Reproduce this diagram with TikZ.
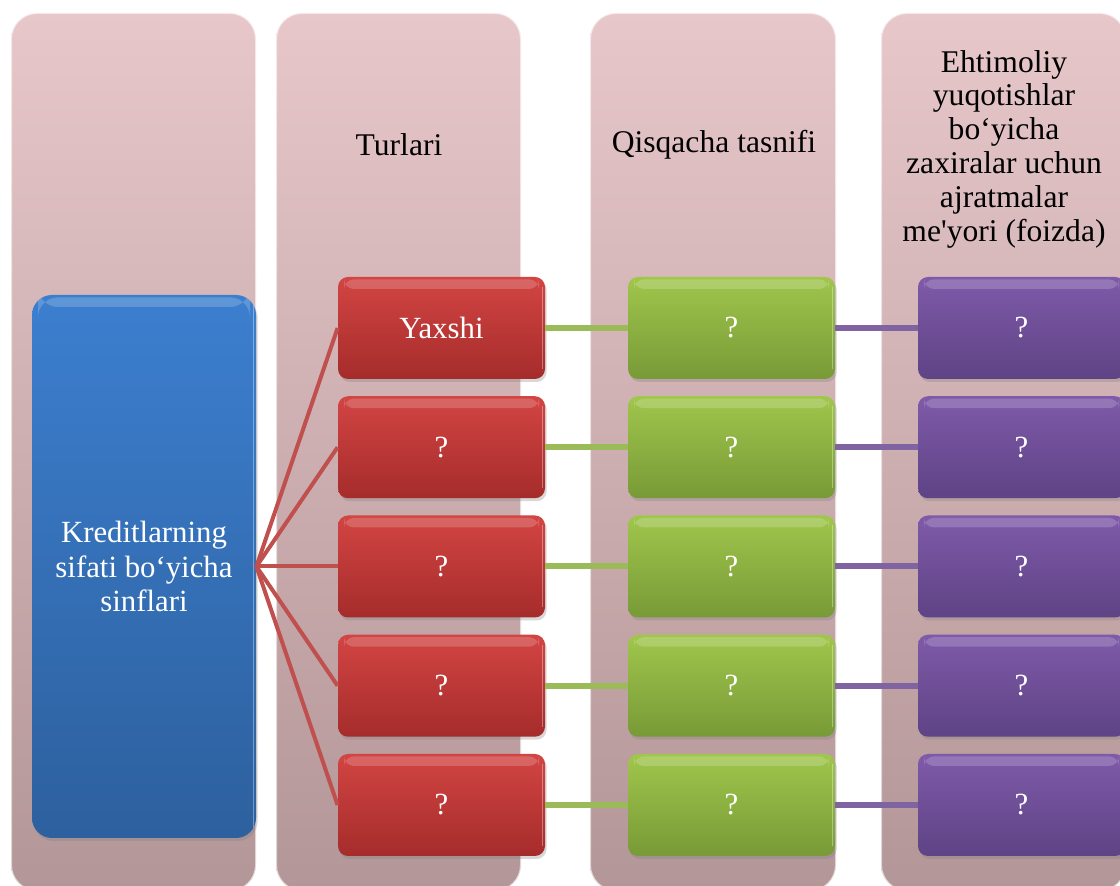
\documentclass[tikz,border=0pt]{standalone}
\usepackage{fontspec}
\setmainfont{Liberation Serif}[Ligatures=TeXOff]
\usetikzlibrary{shadows}
\definecolor{colTop}{HTML}{E7C7CA}
\definecolor{colBot}{HTML}{B39697}
\definecolor{redTop}{HTML}{D24543}
\definecolor{redBot}{HTML}{A52C2B}
\definecolor{grnTop}{HTML}{A0C64C}
\definecolor{grnBot}{HTML}{789A37}
\definecolor{purTop}{HTML}{7F5AA9}
\definecolor{purBot}{HTML}{5E4385}
\definecolor{bluTop}{HTML}{3C7FCF}
\definecolor{bluBot}{HTML}{2D609E}
\definecolor{redLine}{HTML}{C0504D}
\definecolor{grnLine}{HTML}{9BBB59}
\definecolor{purLine}{HTML}{8064A2}
\begin{document}
\begin{tikzpicture}[x=0.5pt,y=-0.5pt,
  colbox/.style={rectangle, rounded corners=13pt, top color=colTop, bottom color=colBot,
    draw=white, draw opacity=0.6, line width=1pt, minimum width=122.5pt, minimum height=439pt, inner sep=0pt},
  head/.style={font=\fontsize{15.8}{16.9}\selectfont, text=black, align=center},
  gloss/.style={path picture={
    \fill[white,opacity=.18] ([xshift=3pt,yshift=-1.2pt]path picture bounding box.north west) rectangle ([xshift=-3pt,yshift=-6pt]path picture bounding box.north east);
    \draw[white,opacity=.35,line width=0.8pt] ([xshift=-1.2pt,yshift=-5pt]path picture bounding box.north east) -- ([xshift=-1.2pt,yshift=5pt]path picture bounding box.south east);}},
  box/.style={rectangle, rounded corners=5pt, minimum width=103.5pt, minimum height=51pt, inner sep=0pt,
    text=white, font=\fontsize{15.4}{17.2}\selectfont, align=center, gloss,
    drop shadow={shadow xshift=0.8pt, shadow yshift=-1.5pt, opacity=.3}},
  redbox/.style={box, top color=redTop, bottom color=redBot},
  grnbox/.style={box, top color=grnTop, bottom color=grnBot},
  purbox/.style={box, top color=purTop, bottom color=purBot},
  redline/.style={draw=redLine, line width=2pt},
  grnline/.style={draw=grnLine, line width=3pt},
  purline/.style={draw=purLine, line width=3pt}]
\useasboundingbox (0,0) rectangle (1120,886);
\clip (0,0) rectangle (1120,886);
\fill[white] (0,0) rectangle (1120,886);
% columns
\node[colbox] (c1) at (133.5,452) {};
\node[colbox] (c2) at (398.5,452) {};
\node[colbox, minimum width=123pt] (c3) at (713,452) {};
\node[colbox] (c4) at (1003.5,452) {};
% headers
\node[head] (h2) at (399,145) {Turlari};
\node[head] (h3) at (714,145) {Qisqacha tasnifi};
\node[head] (h4) at (1004,149) {Ehtimoliy\\yuqotishlar\\bo‘yicha\\zaxiralar uchun\\ajratmalar\\me'yori (foizda)};
% main box
\node[box, top color=bluTop, bottom color=bluBot, minimum width=112pt, minimum height=271.5pt, rounded corners=10pt,
  font=\fontsize{15.4}{17.3}\selectfont] (main) at (144,566.5) {Kreditlarning\\sifati bo‘yicha\\sinflari};
% rows
\foreach \i/\yy/\t in {1/328/Yaxshi,2/447.25/?,3/566.5/?,4/685.75/?,5/805/?}{
  \node[redbox] (r\i) at (441.5,\yy) {\t};
  \node[grnbox] (g\i) at (731.5,\yy) {?};
  \node[purbox] (p\i) at (1021.5,\yy) {?};
}
% connectors
\foreach \i in {1,...,5}{
  \draw[redline] (main.east) -- (r\i.west);
  \draw[grnline] (r\i.east) -- (g\i.west);
  \draw[purline] (g\i.east) -- (p\i.west);
}
\end{tikzpicture}
\end{document}
